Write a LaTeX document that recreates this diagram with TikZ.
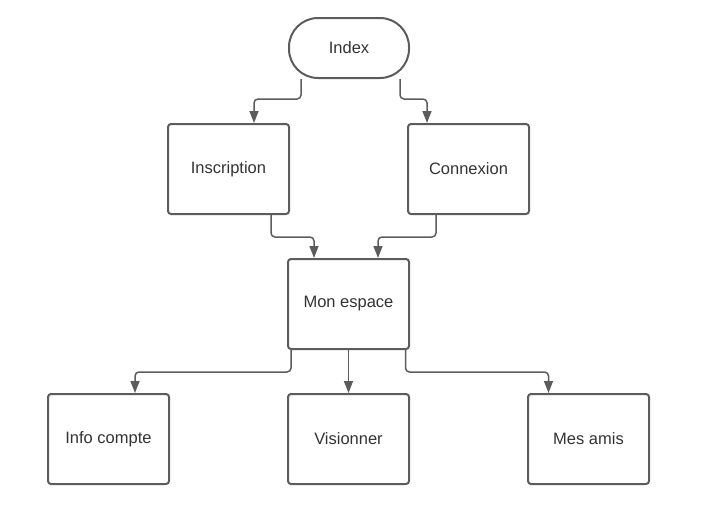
\documentclass[tikz,border=0pt]{standalone}
\usepackage{fontspec}
\setmainfont{Liberation Sans}
\usetikzlibrary{arrows.meta}
\definecolor{linegray}{HTML}{5C5C5C}
\definecolor{textgray}{HTML}{333333}

\begin{document}
\begin{tikzpicture}[x=1pt, y=-1pt,
    page/.style={draw=linegray, line width=2pt, rounded corners=3pt, minimum width=121pt, minimum height=90pt, inner sep=0pt, text=textgray, font=\fontsize{16.5}{19}\selectfont},
    link/.style={draw=linegray, line width=1.5pt, rounded corners=4pt, -{Triangle[length=12pt, width=9pt]}}]
    \useasboundingbox (0,0) rectangle (709,512);

    % Start page
    \node[page, minimum width=120pt, minimum height=60pt, rounded corners=29pt] (index) at (349,48) {Index};

    % Account pages
    \node[page] (inscription) at (228.5,169) {Inscription};
    \node[page] (connexion) at (468.5,169) {Connexion};

    % Personal space
    \node[page] (espace) at (348.5,304) {Mon espace};

    % Sub pages
    \node[page] (info) at (108.5,439) {Info compte};
    \node[page] (visionner) at (348.5,439) {Visionner};
    \node[page] (amis) at (588.5,439) {Mes amis};

    % Links
    \draw[link] ([xshift=-48pt]index.south) -- ++(0,20) -| ([xshift=25.5pt]inscription.north);
    \draw[link] ([xshift=51pt]index.south) -- ++(0,20) -| ([xshift=-41.5pt]connexion.north);
    \draw[link] ([xshift=42.5pt]inscription.south) -- ++(0,22) -| ([xshift=-34.5pt]espace.north);
    \draw[link] ([xshift=-32.5pt]connexion.south) -- ++(0,22) -| ([xshift=29.5pt]espace.north);
    \draw[link] ([xshift=-57.5pt]espace.south) -- ++(0,22) -| ([xshift=26.5pt]info.north);
    \draw[link] (espace.south) -- (visionner.north);
    \draw[link] ([xshift=57pt]espace.south) -- ++(0,22) -| ([xshift=-40pt]amis.north);
\end{tikzpicture}
\end{document}
